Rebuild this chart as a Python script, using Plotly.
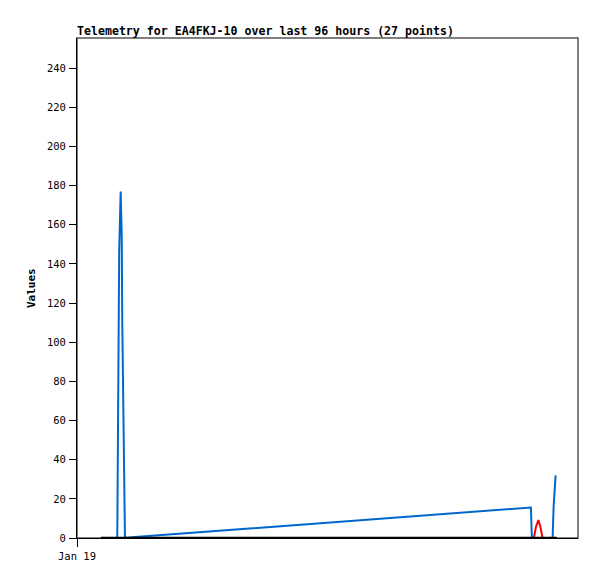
import plotly.graph_objects as go

# ---- data ----
blue_t = ["2024-01-19 08:29", "2024-01-19 08:33", "2024-01-19 08:46", "2024-01-19 08:53",
          "2024-01-19 09:12", "2024-01-19 09:25", "2024-01-19 09:32", "2024-01-19 09:45",
          "2024-01-19 10:02", "2024-01-19 10:06", "2024-01-19 12:13", "2024-01-22 23:35",
          "2024-01-22 23:47", "2024-01-23 04:09", "2024-01-23 04:22", "2024-01-23 04:34",
          "2024-01-23 04:47"]
blue_v = [0, 30, 88, 147, 177, 154, 110, 66, 23, 0, 0.5, 15.6, 0, 0, 16, 26.5, 32]

red_t = ["2024-01-19 05:03", "2024-01-23 00:13", "2024-01-23 00:38", "2024-01-23 01:10",
         "2024-01-23 01:35", "2024-01-23 02:02", "2024-01-23 05:03"]
red_v = [0, 0, 5.6, 9.2, 5.6, 0, 0]

black_t = ["2024-01-19 05:03", "2024-01-23 05:03"]
black_v = [0, 0]

y_ticks = list(range(0, 241, 20))
x_tick_vals = ["2024-01-19 00:00"]
x_tick_text = ["Jan 19"]
x_range = ["2024-01-19 00:00", "2024-01-23 09:30"]
y_range = [0, 255.4]

title_text = "Telemetry for EA4FKJ-10 over last 96 hours (27 points)"

mono = "DejaVu Sans Mono"

# page body has an 8px margin, so the figure is sized/offset to compensate
W, H = 589, 571

fig = go.Figure()
fig.add_trace(go.Scatter(x=blue_t, y=blue_v, mode="lines",
                         line=dict(color="#0066CC", width=2), showlegend=False))
fig.add_trace(go.Scatter(x=red_t, y=red_v, mode="lines",
                         line=dict(color="#FF0000", width=2), showlegend=False))
fig.add_trace(go.Scatter(x=black_t, y=black_v, mode="lines",
                         line=dict(color="#000000", width=2.5), showlegend=False))

fig.update_layout(
    width=W, height=H,
    margin=dict(l=69, r=19, t=30, b=41),
    paper_bgcolor="white", plot_bgcolor="white",
    title=dict(text="<b>" + title_text + "</b>", x=69 / W, xanchor="left",
               y=1 - 23 / H, yanchor="middle", yref="container",
               font=dict(family=mono, size=11.6, color="black")),
    xaxis=dict(type="date", range=x_range, tickvals=x_tick_vals, ticktext=x_tick_text,
               showgrid=False, zeroline=False, showline=True, linecolor="black",
               linewidth=1, ticks="outside", ticklen=8, tickcolor="black",
               tickfont=dict(family=mono, size=10.5, color="black")),
    yaxis=dict(range=y_range, tickvals=y_ticks, showgrid=False, zeroline=False,
               showline=True, linecolor="black", linewidth=1, ticks="outside",
               ticklen=7, tickcolor="black", ticklabelstandoff=1,
               tickfont=dict(family=mono, size=10.5, color="black")),
    shapes=[dict(type="rect", xref="paper", yref="paper", x0=0, x1=1, y0=0, y1=1,
                 line=dict(color="#555555", width=1.5), layer="below")],
    annotations=[dict(text="<b>Values</b>", xref="paper", yref="paper",
                      x=-46 / 501, y=0.5, xanchor="center", yanchor="middle",
                      textangle=-90, showarrow=False,
                      font=dict(family=mono, size=11, color="black"))],
)

fig.write_html("out.html")
